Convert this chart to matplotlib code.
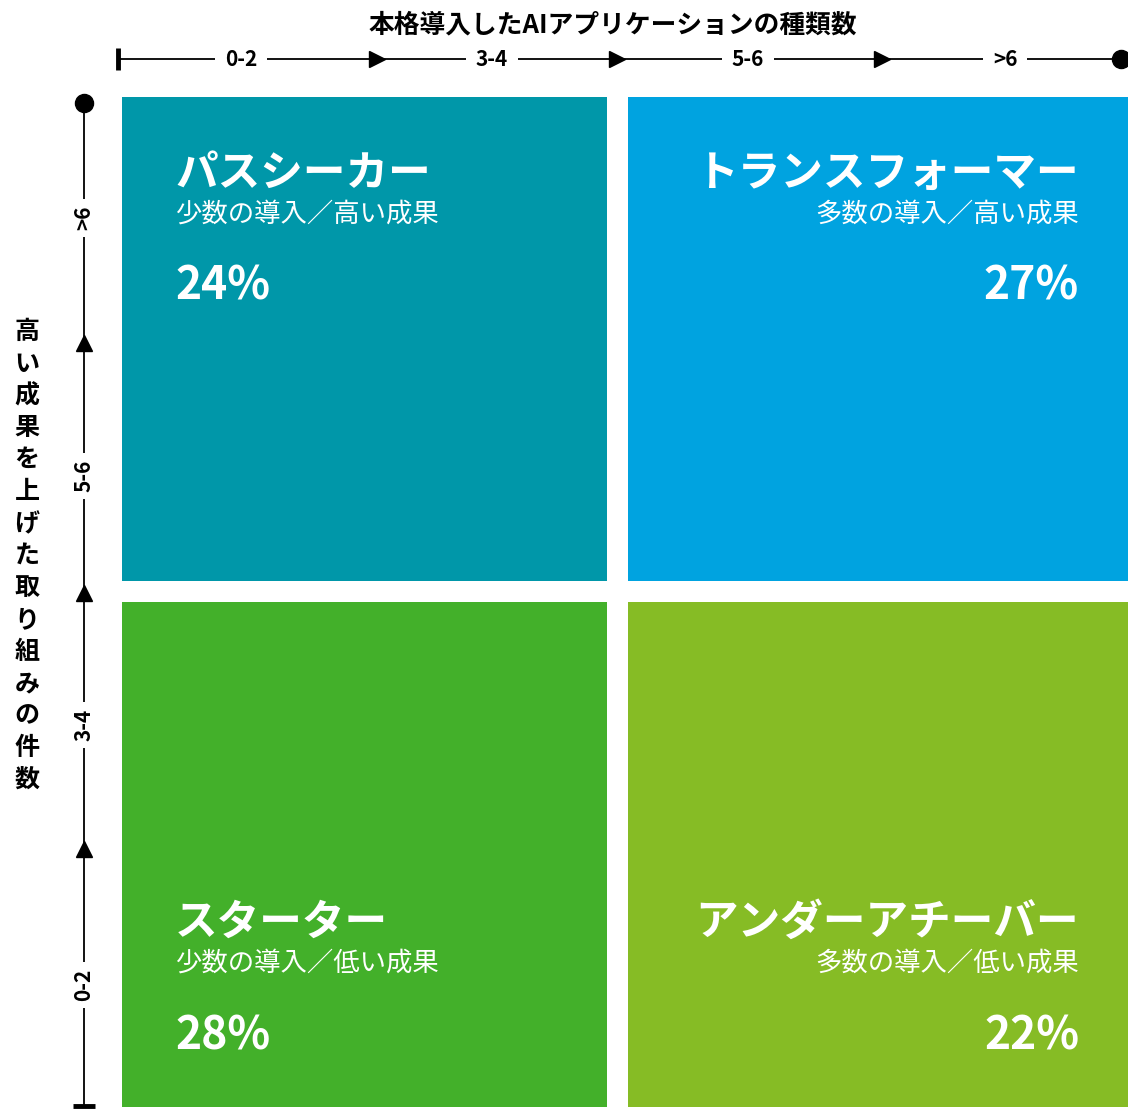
import matplotlib.pyplot as plt
from matplotlib.patches import Rectangle

plt.rcParams['font.family'] = ['Noto Sans CJK JP', 'DejaVu Sans']

# data
x_title = '本格導入したAIアプリケーションの種類数'
y_title = '高い成果を上げた取り組みの件数'
bins = ['0-2', '3-4', '5-6', '>6']

# quadrants: (column, row from top)
names = ['パスシーカー', 'トランスフォーマー', 'スターター', 'アンダーアチーバー']
subs = ['少数の導入／高い成果', '多数の導入／高い成果', '少数の導入／低い成果', '多数の導入／低い成果']
shares = [24, 27, 28, 22]
cells = [(0, 0), (1, 0), (0, 1), (1, 1)]
colors = ['#0097A9', '#00A3E0', '#43B02A', '#86BC25']

W, H = 1128, 1111
fig = plt.figure(figsize=(W / 100, H / 100), dpi=100)
ax = fig.add_axes([0, 0, 1, 1])
ax.set_xlim(0, W)
ax.set_ylim(H, 0)
ax.axis('off')

# grid layout in pixels
x0, y0 = 122, 97
cw, ch, gap = 485, 484, 21
ch_bottom = 505
pad = 53

for (c, r), name, sub, val, col in zip(cells, names, subs, shares, colors):
    left = x0 + c * (cw + gap)
    top = y0 + r * (ch + gap)
    h = ch if r == 0 else ch_bottom
    w = cw if c == 0 else cw + 20
    ax.add_patch(Rectangle((left, top), w, h, facecolor=col, edgecolor='none'))
    if c == 0:
        tx, ha = left + pad, 'left'
    else:
        tx, ha = left + cw - 34, 'right'
    if r == 0:
        ty = top + 76
    else:
        ty = top + h - 185
    ax.text(tx, ty, name, color='white', fontsize=30.7, fontweight='bold', ha=ha, va='center')
    ax.text(tx, ty + 41, sub, color='white', fontsize=19, ha=ha, va='center')
    ax.text(tx, ty + 114, f'{val}%', color='white', fontsize=32, fontweight='bold', ha=ha, va='center')

# top axis
ax.text(613, 25, x_title, fontsize=18.5, fontweight='bold', ha='center', va='center')
top_y = 59
xs = [118, 377, 617, 882, 1121]
xlab = [241, 492, 748, 1005]
ax.plot([xs[0], xs[-1]], [top_y, top_y], color='black', lw=1.3, zorder=1)
ax.plot([xs[0]], [top_y], marker='|', markersize=16, mew=3.5, color='black', zorder=3)
ax.plot(xs[1:4], [top_y] * 3, marker='>', markersize=11, linestyle='none', color='black', zorder=3)
ax.plot([xs[-1]], [top_y], marker='o', markersize=13, color='black', zorder=3)
for lx, lab in zip(xlab, bins):
    ax.text(lx, top_y, lab, fontsize=15, fontweight='bold', ha='center', va='center', zorder=2,
            bbox=dict(facecolor='white', edgecolor='none', pad=7))

# left axis
left_x = 84
ys = [1106, 849, 593, 343, 103]
ylab = [985, 725, 476, 218]
ax.plot([left_x, left_x], [ys[0], ys[-1]], color='black', lw=1.3, zorder=1)
ax.plot([left_x], [ys[0]], marker='_', markersize=16, mew=3.5, color='black', zorder=3)
ax.plot([left_x] * 3, ys[1:4], marker='^', markersize=11, linestyle='none', color='black', zorder=3)
ax.plot([left_x], [ys[-1]], marker='o', markersize=13, color='black', zorder=3)
for ly, lab in zip(ylab, bins):
    ax.text(left_x, ly, lab, fontsize=15, fontweight='bold', ha='center', va='center', rotation=90,
            zorder=2, bbox=dict(facecolor='white', edgecolor='none', pad=5))

for i, chr_ in enumerate(y_title):
    ax.text(27, 332 + i * 32, chr_, fontsize=18, fontweight='bold', ha='center', va='center')

fig.savefig('out.png', dpi=100)
